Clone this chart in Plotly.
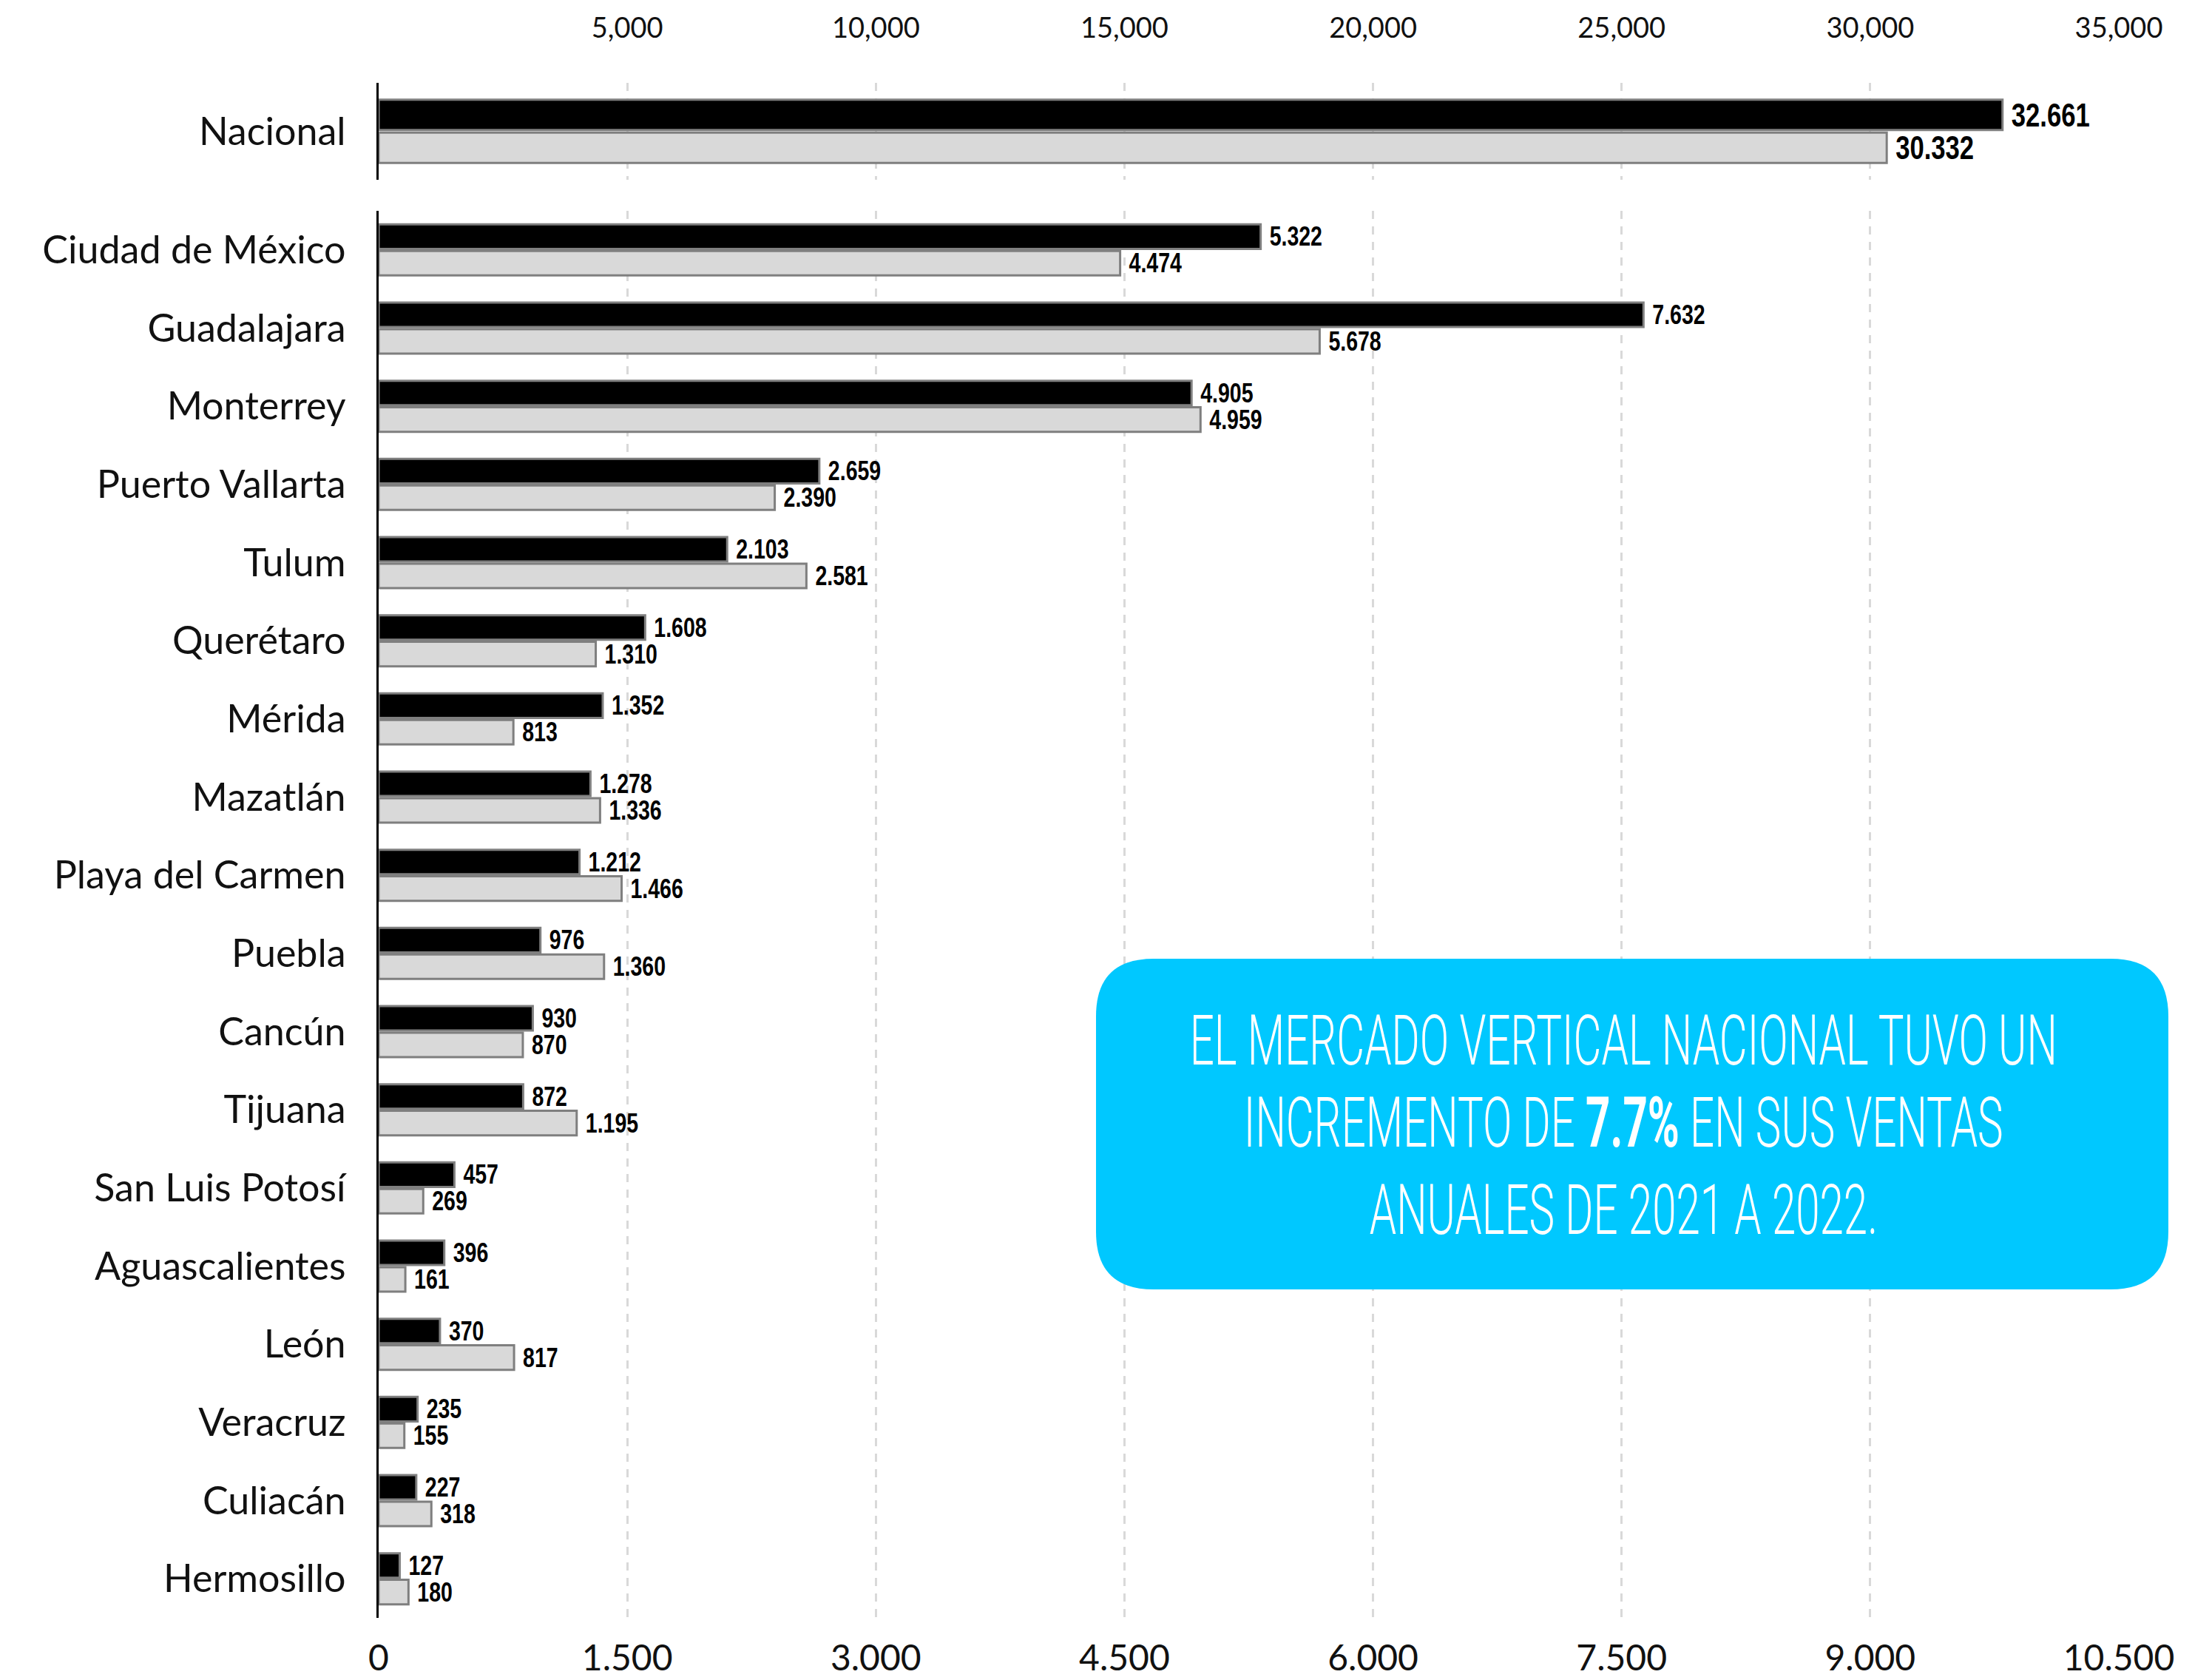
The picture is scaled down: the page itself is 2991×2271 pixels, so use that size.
import plotly.graph_objects as go

# ---- data ----
national_label = ["Nacional"]
national_2022 = [32661]
national_2021 = [30332]

cities = ["Ciudad de México", "Guadalajara", "Monterrey", "Puerto Vallarta", "Tulum",
          "Querétaro", "Mérida", "Mazatlán", "Playa del Carmen", "Puebla", "Cancún",
          "Tijuana", "San Luis Potosí", "Aguascalientes", "León", "Veracruz",
          "Culiacán", "Hermosillo"]
cities_2022 = [5322, 7632, 4905, 2659, 2103, 1608, 1352, 1278, 1212, 976, 930, 872,
               457, 396, 370, 235, 227, 127]
cities_2021 = [4474, 5678, 4959, 2390, 2581, 1310, 813, 1336, 1466, 1360, 870, 1195,
               269, 161, 817, 155, 318, 180]

top_ticks = [5000, 10000, 15000, 20000, 25000, 30000, 35000]
bottom_ticks = [0, 1500, 3000, 4500, 6000, 7500, 9000, 10500]

callout_lines = [
    "EL MERCADO VERTICAL NACIONAL TUVO UN",
    "INCREMENTO DE <b>7.7%</b> EN SUS VENTAS",
    "ANUALES DE 2021 A 2022.",
]


def dotted(v):
    return f"{v:,}".replace(",", ".")


# ---- page geometry (pixels) ----
W, H = 2991, 2271
L, R, T, B = 512, 2865, 112, 2187
PW, PH = R - L, B - T


def px(x):
    return (x - L) / PW


def py(y):
    return (B - y) / PH


LABEL_FONT = "Lato, 'Open Sans', sans-serif"
NUM_FONT = "'Liberation Sans', Arial, sans-serif"
CALLOUT_FONT = "Roboto, 'Open Sans', sans-serif"
DARK_FILL, LIGHT_FILL, EDGE = "#000000", "#d9d9d9", "#7f7f7f"

fig = go.Figure()


def add_bars(labels, values, fill, size, xa, ya, name):
    fig.add_trace(go.Bar(
        y=labels, x=values, orientation="h", name=name, xaxis=xa, yaxis=ya,
        marker=dict(color=fill, line=dict(color=EDGE, width=3)),
        text=[dotted(v) for v in values], textposition="outside", cliponaxis=False,
        constraintext="none",
        textfont=dict(family=NUM_FONT, size=size, color="#000", weight="bold"),
    ))


# national bars (top panel)
add_bars(national_label, national_2022, DARK_FILL, 45, "x2", "y2", "2022")
add_bars(national_label, national_2021, LIGHT_FILL, 45, "x2", "y2", "2021")
# city bars (bottom panel)
add_bars(cities, cities_2022, DARK_FILL, 37, "x", "y", "2022")
add_bars(cities, cities_2021, LIGHT_FILL, 37, "x", "y", "2021")

grid = dict(showgrid=True, gridcolor="#d9d9d9", gridwidth=3, griddash="11px,10px",
            zeroline=False, showline=False)
hidden_ticks = dict(ticks="outside", tickcolor="rgba(0,0,0,0)")

# rounded callout box
x0, x1 = px(1482), px(2932)
y1, y0 = py(1296), py(1743)
rx, ry = 78 / PW, 78 / PH
box_path = (f"M {x0+rx},{y1} L {x1-rx},{y1} Q {x1},{y1} {x1},{y1-ry} "
            f"L {x1},{y0+ry} Q {x1},{y0} {x1-rx},{y0} L {x0+rx},{y0} "
            f"Q {x0},{y0} {x0},{y0+ry} L {x0},{y1-ry} Q {x0},{y1} {x0+rx},{y1} Z")

annotations = []
for text, yc in zip(callout_lines, [1407, 1518, 1636]):
    annotations.append(dict(
        xref="paper", yref="paper", x=px(2195), y=py(yc), text=text, showarrow=False,
        xanchor="center", yanchor="middle",
        font=dict(family=CALLOUT_FONT, size=94, color="#ffffff", weight=300),
    ))

fig.update_layout(
    width=W, height=H, paper_bgcolor="white", plot_bgcolor="white",
    margin=dict(l=L, r=W - R, t=T, b=H - B, autoexpand=False),
    showlegend=False, barmode="group", bargap=0.32, bargroupgap=0.08,
    xaxis=dict(domain=[0, 1], anchor="y", range=[0, 10500], tickvals=bottom_ticks,
               ticktext=[dotted(v) for v in bottom_ticks], ticklen=12,
               tickfont=dict(family=LABEL_FONT, size=48, color="#111"),
               **grid, **hidden_ticks),
    yaxis=dict(domain=[0, py(285)], anchor="x", type="category",
               categoryarray=cities, range=[len(cities) - 0.5, -0.5],
               showline=True, linecolor="#000", linewidth=3, showgrid=False,
               zeroline=False, ticklen=31,
               tickfont=dict(family=LABEL_FONT, size=52, color="#111"), **hidden_ticks),
    xaxis2=dict(domain=[0, 1], anchor="y2", side="top", range=[0, 35000],
                tickvals=top_ticks, ticktext=[f"{v:,}" for v in top_ticks], ticklen=45,
                tickfont=dict(family=LABEL_FONT, size=38, color="#111"),
                **grid, **hidden_ticks),
    yaxis2=dict(domain=[py(243), 1], anchor="x2", type="category",
                categoryarray=national_label, range=[0.5, -0.5],
                showline=True, linecolor="#000", linewidth=3, showgrid=False,
                zeroline=False, ticklen=31,
                tickfont=dict(family=LABEL_FONT, size=52, color="#111"), **hidden_ticks),
    shapes=[dict(type="path", xref="paper", yref="paper", path=box_path,
                 fillcolor="#00c8ff", line=dict(width=0), layer="above")],
    annotations=annotations,
)

# Narrow the value labels and the callout lettering horizontally (condensed look).
squeeze_js = """
function squeeze(sel, s, anchor, shift) {
  document.querySelectorAll(sel).forEach(function (t) {
    var b = t.getBBox();
    var ax = anchor === 'left' ? b.x : b.x + b.width / 2;
    var old = t.getAttribute('transform') || '';
    t.setAttribute('transform', old + ' translate(' + (ax + shift) + ',0) scale(' + s +
                   ',1) translate(' + (-ax) + ',0)');
  });
}
squeeze('text.bartext', 0.77, 'left', 9);
squeeze('text.annotation-text', 0.62, 'center', 0);
"""

fig.write_html("out.html", post_script=squeeze_js)
